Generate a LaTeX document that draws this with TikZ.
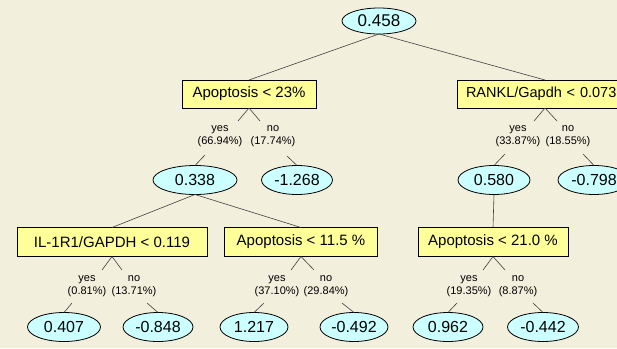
\documentclass[tikz,border=0pt]{standalone}
\usepackage{fontspec}
\setmainfont{Liberation Sans}
\usetikzlibrary{shapes.geometric}
\definecolor{bg}{RGB}{243,239,221}
\definecolor{boxfill}{RGB}{255,255,153}
\definecolor{ellfill}{RGB}{204,255,255}
\begin{document}
\begin{tikzpicture}[x=1pt,y=-1pt,
  every node/.style={inner sep=0pt, outer sep=0pt},
  split/.style={draw=black, fill=boxfill, rectangle, minimum height=28pt, font=\fontsize{15}{18}\selectfont, line width=0.8pt},
  leaf/.style={draw=black, fill=ellfill, ellipse, minimum height=29pt, font=\fontsize{16}{19}\selectfont, line width=0.8pt},
  lab/.style={align=center, font=\fontsize{11}{13}\selectfont},
  conn/.style={draw=black!75, line width=0.6pt}]
\fill[bg] (0,0) rectangle (617,348);
\useasboundingbox (0,0) rectangle (617,348);
\clip (0,0) rectangle (617,348);

% nodes
\node[leaf, minimum width=74pt, minimum height=26pt, font=\fontsize{17}{20}\selectfont] (root) at (379,21) {0.458};
\node[split, minimum width=134pt] (A1) at (249,94) {Apoptosis < 23\%};
\node[split, anchor=west, text width=162pt, align=left, inner xsep=9pt, font=\fontsize{14.5}{17}\selectfont] (A2) at (457,94) {RANKL/Gapdh < 0.073};

\node[leaf, minimum width=84pt] (L1) at (195,180) {0.338};
\node[leaf, minimum width=71pt] (L2) at (297,180) {-1.268};
\node[leaf, minimum width=72pt] (L3) at (494,180) {0.580};
\node[leaf, minimum width=72pt] (L4) at (594,180) {-0.798};

\node[split, minimum width=190pt, minimum height=29pt] (B1) at (112,242) {IL-1R1/GAPDH < 0.119};
\node[split, minimum width=153pt, minimum height=29pt] (B2) at (301,242) {Apoptosis < 11.5 \%};
\node[split, minimum width=150pt, minimum height=29pt] (B3) at (493,242) {Apoptosis < 21.0 \%};

\node[leaf, minimum width=73pt] (C1) at (64,327) {0.407};
\node[leaf, minimum width=70pt] (C2) at (158,327) {-0.848};
\node[leaf, minimum width=68pt] (C3) at (254,327) {1.217};
\node[leaf, minimum width=68pt] (C4) at (354,327) {-0.492};
\node[leaf, minimum width=70pt] (C5) at (448,327) {0.962};
\node[leaf, minimum width=71pt] (C6) at (543,327) {-0.442};

% labels
\node[lab] (y1) at (220,136.5) {yes\\(66.94\%)};
\node[lab] (n1) at (273,136.5) {no\\(17.74\%)};
\node[lab] (y2) at (518,136.5) {yes\\(33.87\%)};
\node[lab] (n2) at (568,136.5) {no\\(18.55\%)};
\node[lab] (y3) at (87,286.5) {yes\\(0.81\%)};
\node[lab] (n3) at (134,286.5) {no\\(13.71\%)};
\node[lab] (y4) at (277,286.5) {yes\\(37.10\%)};
\node[lab] (n4) at (326,286.5) {no\\(29.84\%)};
\node[lab] (y5) at (469,286.5) {yes\\(19.35\%)};
\node[lab] (n5) at (518,286.5) {no\\(8.87\%)};

% tick ends
\coordinate (ty1) at (238,121); \coordinate (tn1) at (260,121);
\coordinate (ty2) at (534,121); \coordinate (tn2) at (557,121);
\coordinate (ty3) at (102,270); \coordinate (tn3) at (122,270);
\coordinate (ty4) at (291,270); \coordinate (tn4) at (314,270);
\coordinate (ty5) at (483,270); \coordinate (tn5) at (505,270);
% lower line starts
\coordinate (sy1) at (205,155); \coordinate (sn1) at (287,156);
\coordinate (sy2) at (505,154); \coordinate (sn2) at (583,154);
\coordinate (sy3) at (72,303);  \coordinate (sn3) at (147,303);
\coordinate (sy4) at (264,303); \coordinate (sn4) at (342,303);
\coordinate (sy5) at (457,303); \coordinate (sn5) at (533,303);
\coordinate (a2top) at (545,80);
\coordinate (a2bot) at (545,108);

% connectors
\draw[conn] (root.south) -- (A1.north);
\draw[conn] (root.south) -- (a2top);
\draw[conn] (L1.south) -- (B1.north);
\draw[conn] (L1.south) -- (B2.north);
\draw[conn] (L3.south) -- (B3.north);

\foreach \b/\i in {A1/1,B1/3,B2/4,B3/5}{
  \draw[conn] (\b.south) -- (ty\i);
  \draw[conn] (\b.south) -- (tn\i);
}
\draw[conn] (a2bot) -- (ty2);
\draw[conn] (a2bot) -- (tn2);
\draw[conn] (sy1) -- (L1.north);
\draw[conn] (sn1) -- (L2.north);
\draw[conn] (sy2) -- (L3.north);
\draw[conn] (sn2) -- (L4.north);
\draw[conn] (sy3) -- (C1.north);
\draw[conn] (sn3) -- (C2.north);
\draw[conn] (sy4) -- (C3.north);
\draw[conn] (sn4) -- (C4.north);
\draw[conn] (sy5) -- (C5.north);
\draw[conn] (sn5) -- (C6.north);
\end{tikzpicture}
\end{document}
